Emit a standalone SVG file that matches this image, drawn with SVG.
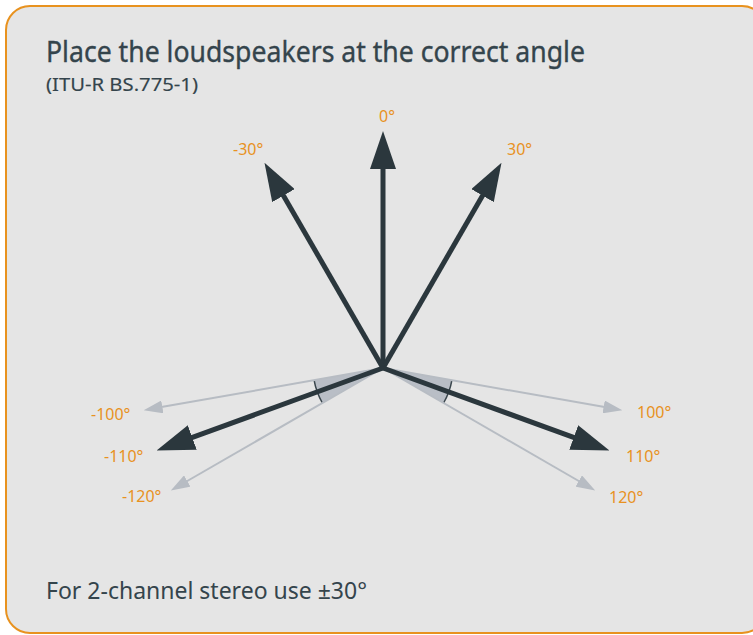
<svg xmlns="http://www.w3.org/2000/svg" width="753" height="635" viewBox="0 0 753 635">
<style>
.ttl{font-family:"Noto Sans","Open Sans","Liberation Sans",sans-serif;fill:#34444c}
.lbl{font-family:"Noto Sans","Open Sans","Liberation Sans",sans-serif;font-size:16px;fill:#e8921f}
.main{stroke:#2b373d;stroke-width:5;fill:none;marker-end:url(#hd)}
.lite{stroke:#b7bcc3;stroke-width:2;fill:none;marker-end:url(#hl)}
.wedge{fill:#b9bec6;stroke:none}
.arc{fill:none;stroke:#3a464d;stroke-width:1.5}
</style>
<defs>
<marker id="hd" viewBox="0 -13 38 26" markerWidth="38" markerHeight="26" refX="2" refY="0" orient="auto" markerUnits="userSpaceOnUse">
<path d="M0,-13 L38,0 L0,13 Z" fill="#2b373d"/>
</marker>
<marker id="hl" viewBox="0 -6.5 19 13" markerWidth="19" markerHeight="13" refX="1" refY="0" orient="auto" markerUnits="userSpaceOnUse">
<path d="M0,-6.5 L19,0 L0,6.5 Z" fill="#b7bcc3"/>
</marker>
</defs>
<rect id="panel" x="6" y="6" width="760" height="627" rx="24" ry="24" fill="#e5e5e5" stroke="#e8921f" stroke-width="2"/>
<text class="ttl" x="46" y="62" font-size="28.5" stroke="#34444c" stroke-width="0.35" textLength="539" lengthAdjust="spacingAndGlyphs">Place the loudspeakers at the correct angle</text>
<text class="ttl" x="46" y="91" font-size="18.5" stroke="#34444c" stroke-width="0.15" textLength="152" lengthAdjust="spacingAndGlyphs">(ITU-R BS.775-1)</text>
<g id="wedges">
<path class="wedge" d="M383,368 L451.9,380.2 A70,70 0 0 1 443.6,403 Z"/>
<path class="wedge" d="M383,368 L314.1,380.2 A70,70 0 0 0 322.4,403 Z"/>
<path class="arc" d="M451.9,380.2 A70,70 0 0 1 443.6,403"/>
<path class="arc" d="M314.1,380.2 A70,70 0 0 0 322.4,403"/>
</g>
<g id="connectors">
<line class="lite" x1="383" y1="368" x2="604.6" y2="407.1"/>
<line class="lite" x1="383" y1="368" x2="161.4" y2="407.1"/>
<line class="lite" x1="383" y1="368" x2="579.6" y2="481.5"/>
<line class="lite" x1="383" y1="368" x2="186.4" y2="481.5"/>
<line class="main" x1="383" y1="368" x2="383" y2="167"/>
<line class="main" x1="383" y1="368" x2="483.5" y2="193.9"/>
<line class="main" x1="383" y1="368" x2="282.5" y2="193.9"/>
<line class="main" x1="383" y1="368" x2="575.6" y2="438.1"/>
<line class="main" x1="383" y1="368" x2="190.4" y2="438.1"/>
</g>
<g id="labels">
<text class="lbl" x="387" y="122" text-anchor="middle">0°</text>
<text class="lbl" x="233" y="155">-30°</text>
<text class="lbl" x="507" y="155">30°</text>
<text class="lbl" x="91" y="420">-100°</text>
<text class="lbl" x="104" y="462">-110°</text>
<text class="lbl" x="122" y="502">-120°</text>
<text class="lbl" x="637" y="418">100°</text>
<text class="lbl" x="626" y="462">110°</text>
<text class="lbl" x="609" y="503">120°</text>
</g>
<text class="ttl" x="46" y="599" font-size="23" textLength="321" lengthAdjust="spacingAndGlyphs">For 2-channel stereo use ±30°</text>
</svg>
